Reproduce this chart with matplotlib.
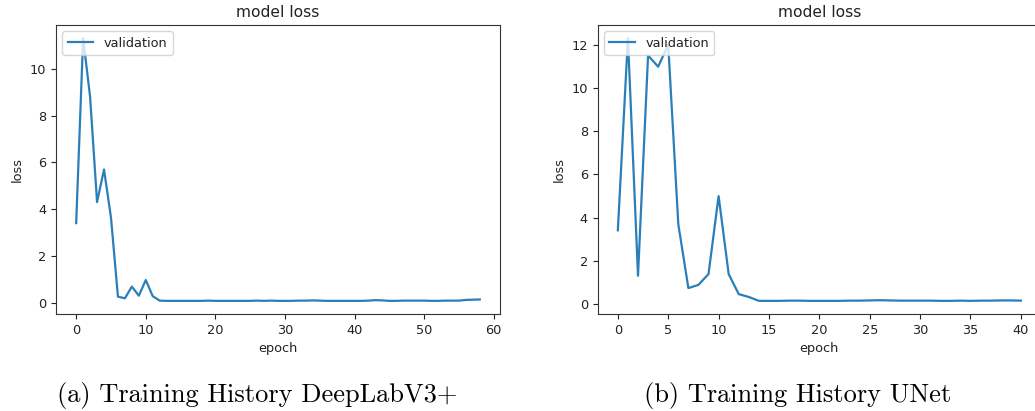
import matplotlib
matplotlib.use("Agg")
import matplotlib.pyplot as plt

# Validation loss per epoch, DeepLabV3+ (epochs 0..58)
deeplab_loss = [
    3.41, 11.31, 8.80, 4.31, 5.70, 3.65, 0.27, 0.20, 0.70, 0.31,
    0.98, 0.29, 0.10, 0.09, 0.09, 0.09, 0.09, 0.09, 0.09, 0.10,
    0.09, 0.09, 0.09, 0.09, 0.09, 0.09, 0.10, 0.09, 0.10, 0.09,
    0.09, 0.09, 0.10, 0.10, 0.11, 0.10, 0.09, 0.09, 0.09, 0.09,
    0.09, 0.09, 0.10, 0.12, 0.11, 0.09, 0.09, 0.10, 0.10, 0.10,
    0.10, 0.09, 0.09, 0.10, 0.10, 0.10, 0.13, 0.14, 0.15,
]

# Validation loss per epoch, UNet (epochs 0..40)
unet_loss = [
    3.42, 12.30, 1.32, 11.50, 10.98, 12.00, 3.70, 0.75, 0.90, 1.40,
    5.00, 1.40, 0.47, 0.34, 0.16, 0.16, 0.16, 0.17, 0.17, 0.16,
    0.16, 0.16, 0.16, 0.17, 0.17, 0.18, 0.19, 0.18, 0.17, 0.17,
    0.17, 0.17, 0.16, 0.16, 0.17, 0.16, 0.17, 0.17, 0.18, 0.18,
    0.17,
]

captions = ["(a) Training History DeepLabV3+", "(b) Training History UNet"]
series = [deeplab_loss, unet_loss]

W, H = 1035, 411
fig = plt.figure(figsize=(W / 100, H / 100), dpi=100)

# axes boxes in pixels: (left, right, top, bottom)
boxes = [(56, 500, 25, 314), (597.7, 1041, 25, 314)]
caption_x = [257, 798]

FS = 9.3
for values, caption, (l, r, t, b), cx in zip(series, captions, boxes, caption_x):
    ax = fig.add_axes([l / W, (H - b) / H, (r - l) / W, (b - t) / H])
    ax.plot(range(len(values)), values, color="#2a7fba", lw=1.6, label="validation")
    ax.set_title("model loss", fontsize=11.2, color="#222222")
    ax.set_xlabel("epoch", fontsize=FS, color="#222222")
    ax.set_ylabel("loss", fontsize=FS, color="#222222")
    ax.tick_params(labelsize=FS, colors="#222222")
    for s in ax.spines.values():
        s.set_color("#333333")
    leg = ax.legend(loc="upper left", fontsize=FS)
    for txt in leg.get_texts():
        txt.set_color("#222222")
    fig.text(cx / W, (H - 402) / H, caption, ha="center", va="baseline",
             fontsize=19, family="cmr10")

ax0, ax1 = fig.axes
ax0.set_xticks([0, 10, 20, 30, 40, 50, 60])
ax1.set_xticks([0, 5, 10, 15, 20, 25, 30, 35, 40])

fig.savefig("out.png", dpi=100)
